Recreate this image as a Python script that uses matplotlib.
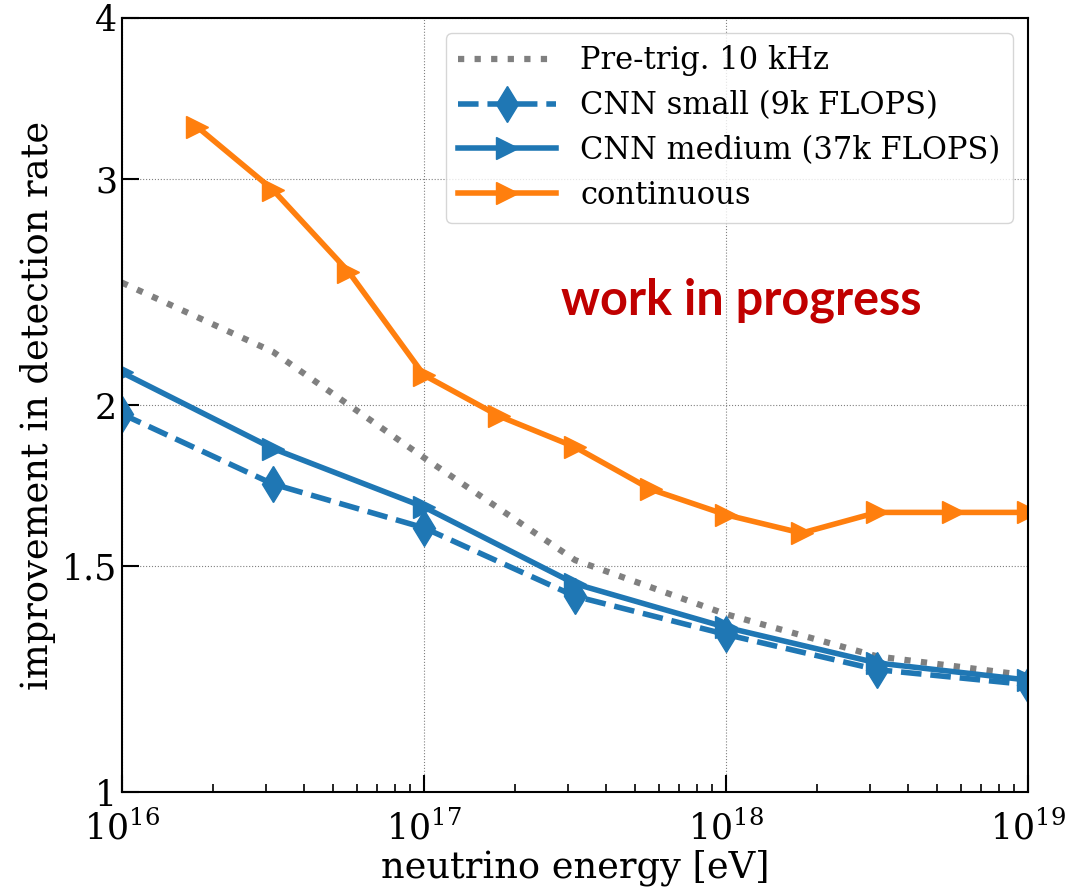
import numpy as np
import matplotlib
matplotlib.use("Agg")
import matplotlib.pyplot as plt
from matplotlib.ticker import NullLocator, FixedLocator, FixedFormatter

plt.rcParams['font.family'] = ['DejaVu Serif']
plt.rcParams['mathtext.fontset'] = 'dejavuserif'

# energies in eV
E_main = 10 ** np.array([16.0, 16.5, 17.0, 17.5, 18.0, 18.5, 19.0])
E_cont = 10 ** np.array([16.25, 16.5, 16.75, 17.0, 17.25, 17.5, 17.75,
                         18.0, 18.25, 18.5, 18.75, 19.0])

pretrig = [2.49, 2.20, 1.82, 1.515, 1.375, 1.275, 1.232]
cnn_small = [1.968, 1.736, 1.605, 1.42, 1.326, 1.245, 1.212]
cnn_medium = [2.12, 1.85, 1.666, 1.452, 1.343, 1.26, 1.222]
continuous = [3.29, 2.94, 2.54, 2.11, 1.96, 1.855, 1.72, 1.643, 1.59, 1.65, 1.65, 1.65]

yticks = [1, 1.5, 2, 3, 4]
ytick_labels = ['1', '1.5', '2', '3', '4']

fig = plt.figure(figsize=(10.66, 8.91), dpi=100)
ax = fig.add_axes([0.1144, 0.1111, 0.85, 0.8687])

ax.plot(E_main, pretrig, ls=':', color='gray', lw=4.5, label='Pre-trig. 10 kHz')
ax.plot(E_main, cnn_small, ls='--', color='C0', lw=4, marker='d', ms=18,
        label='CNN small (9k FLOPS)')
ax.plot(E_main, cnn_medium, ls='-', color='C0', lw=4, marker='>', ms=16,
        label='CNN medium (37k FLOPS)')
ax.plot(E_cont, continuous, ls='-', color='C1', lw=4, marker='>', ms=16,
        label='continuous')

ax.set_xscale('log')
ax.set_yscale('log')
ax.set_xlim(1e16, 1e19)
ax.set_ylim(1, 4)
ax.yaxis.set_major_locator(FixedLocator(yticks))
ax.yaxis.set_major_formatter(FixedFormatter(ytick_labels))
ax.yaxis.set_minor_locator(NullLocator())

ax.tick_params(which='both', direction='in', top=False, right=False, labelsize=25)
ax.tick_params(which='major', length=12, width=1.5)
ax.tick_params(which='minor', length=6, width=1.2)
ax.tick_params(axis='x', pad=13)
ax.grid(True, which='major', ls=':', color='gray', lw=0.8)
for s in ax.spines.values():
    s.set_linewidth(1.5)

ax.set_xlabel('neutrino energy [eV]', fontsize=26.5, labelpad=2)
ax.set_ylabel('improvement in detection rate', fontsize=26.5)

ax.legend(loc='upper right', fontsize=22, handlelength=3.2, framealpha=0.8,
          labelspacing=0.45)

ax.text(0.683, 0.635, 'work in progress', transform=ax.transAxes, ha='center',
        va='center', color='#C00000', fontsize=35, fontweight='bold',
        family=['Lato', 'DejaVu Sans'])

fig.savefig('out.png', dpi=100)
